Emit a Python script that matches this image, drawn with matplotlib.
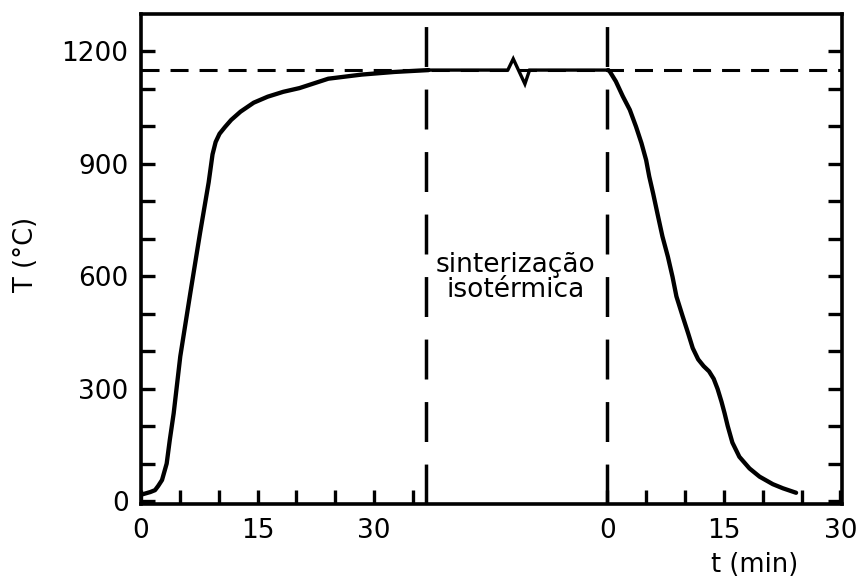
import matplotlib
matplotlib.use("Agg")
import matplotlib.pyplot as plt
import numpy as np

# ---- data ----
# heating stage: time (min) from start, temperature (°C)
t_heat = [0.0, 0.2, 0.7, 1.2, 1.8, 2.2, 2.7, 3.3, 3.7, 4.2, 5.05, 6.35, 7.6,
          8.7, 9.2, 9.6, 10.1, 10.8, 11.6, 12.8, 14.5, 16.3, 18.3, 20.4,
          24.1, 28.4, 32.6, 37.0]
T_heat = [18, 18, 21, 24, 29, 40, 56, 100, 163, 234, 386, 556, 716,
          850, 925, 958, 980, 998, 1017, 1039, 1063, 1079, 1092, 1102,
          1127, 1138, 1145, 1150]

# isothermal plateau (with the axis-break zigzag), same time axis
t_iso = [37.0, 47.2, 47.9, 49.4, 50.0, 60.1]
T_iso = [1150, 1150, 1180, 1113, 1150, 1150]

# cooling stage: time (min) from start of cooling
t_cool = [0.1, 0.3, 1.1, 2.0, 2.9, 3.7, 4.4, 5.0, 5.4, 5.9, 6.5, 7.1, 7.8,
          8.4, 8.9, 9.7, 10.4, 11.0, 11.7, 12.4, 13.1, 13.7, 14.2, 14.7,
          15.1, 15.5, 16.1, 17.0, 18.3, 19.6, 21.3, 22.6, 24.3]
T_cool = [1150, 1147, 1120, 1080, 1044, 999, 955, 910, 866, 821, 763, 706,
          652, 598, 546, 493, 448, 408, 378, 360, 346, 326, 299, 265, 234,
          200, 156, 118, 87, 65, 45, 34, 22]

T_sinter = 1150          # isothermal sintering temperature
t_end_heat = 36.7        # end of heating section (dashed marker)
cool_offset = 60.0       # where the cooling time axis starts

x_tick_labels = ["0", "15", "30", "0", "15", "30"]
y_tick_labels = ["0", "300", "600", "900", "1200"]

# ---- figure ----
plt.rcParams['font.family'] = ['DejaVu Sans']
fig = plt.figure(figsize=(8.6, 5.78), dpi=100)
ax = fig.add_axes([0.164, 0.128, 0.815, 0.848])

ax.set_xlim(0, 90.2)
ax.set_ylim(-8, 1300)

lw_axis = 2.6
for s in ax.spines.values():
    s.set_linewidth(lw_axis)

# horizontal dashed line at sintering temperature
ax.axhline(T_sinter, color='black', lw=2.2, dashes=(5.9, 3.6), zorder=2)

# vertical dashed separators
ax.axvline(t_end_heat, color='black', lw=2.5, dashes=(11.5, 6.5), zorder=2)
ax.axvline(cool_offset, color='black', lw=2.5, dashes=(11.5, 6.5), zorder=2)

# curve
ax.plot(t_heat, T_heat, color='black', lw=3.1, solid_joinstyle='round',
        solid_capstyle='round', zorder=3)
ax.plot(t_iso, T_iso, color='black', lw=2.4, solid_joinstyle='miter', zorder=3)
ax.plot(np.array(t_cool) + cool_offset, T_cool, color='black', lw=3.1,
        solid_joinstyle='round', solid_capstyle='round', zorder=3)

# ticks
xt_major = [0, 15, 30, cool_offset, cool_offset + 15, cool_offset + 30]
ax.set_xticks(xt_major)
ax.set_xticklabels(x_tick_labels)
ax.set_xticks([5, 10, 20, 25, 35,
               cool_offset + 5, cool_offset + 10, cool_offset + 20,
               cool_offset + 25], minor=True)
ax.set_yticks([0, 300, 600, 900, 1200])
ax.set_yticklabels(y_tick_labels)
ax.set_yticks([100, 200, 400, 500, 700, 800, 1000, 1100], minor=True)

for which in ('major', 'minor'):
    ax.tick_params(axis='both', which=which, direction='in', length=10,
                   width=2.4, color='black')
ax.tick_params(axis='y', which='both', left=True, right=True)
ax.tick_params(axis='x', which='both', top=False, bottom=True)
ax.tick_params(axis='x', which='major', labelsize=19, pad=10)
ax.tick_params(axis='y', which='major', labelsize=19, pad=9)

# labels
fig.text(0.030, 0.56, "T (°C)", rotation=90, ha='center', va='center',
         fontsize=18.5)
fig.text(0.878, 0.023, "t (min)", ha='center', va='center', fontsize=18.5)

ax.text(48.2, 597, "sinterização\nisotérmica", ha='center', va='center',
        fontsize=19, linespacing=0.95)

fig.savefig("out.png", dpi=100)
